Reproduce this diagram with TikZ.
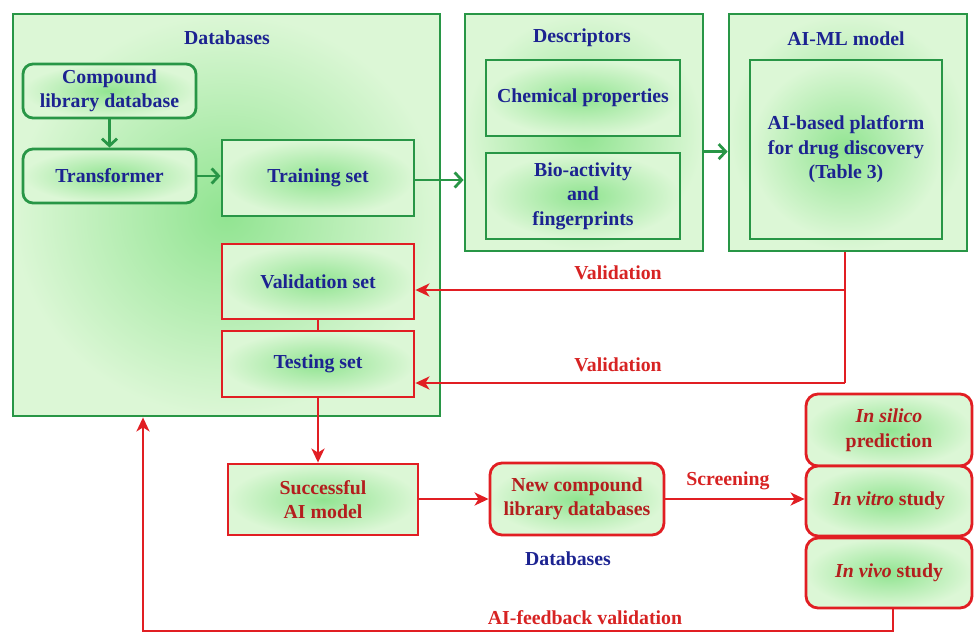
\documentclass[tikz,border=0pt]{standalone}
\usepackage{fontspec}
\setmainfont{Liberation Serif}
\usetikzlibrary{arrows.meta,calc}
\definecolor{gline}{RGB}{40,150,70}
\definecolor{rline}{RGB}{225,30,35}
\definecolor{btext}{RGB}{28,35,145}
\definecolor{rtext}{RGB}{180,30,30}
\definecolor{labred}{RGB}{215,35,35}
\definecolor{fin}{RGB}{145,228,145}
\definecolor{fout}{RGB}{220,247,214}
\tikzset{
  base/.style={draw, line width=2.8pt, inner color=fin, outer color=fout, align=center, inner sep=2pt},
  gbox/.style={base, draw=gline, text=btext},
  rbox/.style={base, draw=rline, text=btext},
  rrbox/.style={base, draw=rline, text=rtext},
  ttl/.style={text=btext, align=center},
  rlab/.style={text=labred},
  garrow/.style={draw=gline, line width=2.8pt, -{Straight Barb[length=7pt,width=15pt,line width=2.8pt]}},
  rarrow/.style={draw=rline, line width=2.8pt, -{Stealth[length=14pt,width=13pt,inset=4pt]}},
  rline/.style={draw=rline, line width=2.8pt},
}
\begin{document}
\begin{tikzpicture}[x=1pt,y=-1pt,font=\fontsize{19.8}{24.5}\selectfont\bfseries]
\useasboundingbox (0,0) rectangle (974,634);
% big boxes
\node[gbox, minimum width=427pt, minimum height=402pt] (db) at (226.5,215) {};
\node[ttl] (dbt) at (227,38) {Databases};
\node[gbox, minimum width=238pt, minimum height=237pt] (desc) at (584,132.5) {};
\node[ttl] (desct) at (582,38) {Descriptors};
\node[gbox, minimum width=238pt, minimum height=237pt] (aiml) at (848,132.5) {};
\node[ttl] (aimlt) at (846,39) {AI-ML model};
% inner boxes
\node[gbox, rounded corners=10pt, minimum width=173pt, minimum height=54pt] (comp) at (109.5,91) {Compound\\library database};
\node[gbox, rounded corners=10pt, minimum width=173pt, minimum height=54pt] (trans) at (109.5,176) {Transformer};
\node[gbox, minimum width=192pt, minimum height=76pt] (train) at (318,178) {Training set};
\node[rbox, minimum width=192pt, minimum height=75pt] (valid) at (318,281.5) {Validation set};
\node[rbox, minimum width=192pt, minimum height=66pt] (test) at (318,364) {Testing set};
\node[gbox, minimum width=194pt, minimum height=76pt] (chem) at (583,98) {Chemical properties};
\node[gbox, minimum width=194pt, minimum height=86pt] (bio) at (583,196) {Bio-activity\\and\\fingerprints};
\node[gbox, minimum width=192pt, minimum height=179pt] (plat) at (846,149.5) {AI-based platform\\for drug discovery\\(Table 3)};
% lower part
\node[rrbox, minimum width=190pt, minimum height=71pt] (succ) at (323,499.5) {Successful\\AI model};
\node[rrbox, rounded corners=12pt, minimum width=174pt, minimum height=72pt] (newc) at (577,499) {New compound\\library databases};
\node[ttl] (dbl) at (568,559) {Databases};
\node[rrbox, rounded corners=12pt, minimum width=166pt, minimum height=72pt] (sil) at (889,430) {\textit{In silico}\\prediction};
\node[rrbox, rounded corners=12pt, minimum width=166pt, minimum height=70pt] (vitro) at (889,501) {\textit{In vitro} study};
\node[rrbox, rounded corners=12pt, minimum width=166pt, minimum height=70pt] (vivo) at (889,573) {\textit{In vivo} study};
% green connectors
\draw[garrow] (comp.south) -- (trans.north);
\draw[garrow] (trans.east) -- (trans.east -| train.west);
\draw[garrow] (train.east |- 0,180) -- (desc.west |- 0,180);
\draw[garrow] (desc.east |- bio.north) -- (aiml.west |- bio.north);
% red validation connectors
\coordinate (v1) at (845,290);
\coordinate (v2) at (845,383);
\draw[rline] (aiml.south -| v1) -- (v2);
\draw[rarrow] (v1) -- (v1 -| valid.east);
\draw[rarrow] (v2) -- (v2 -| test.east);
\node[rlab] (vl1) at (618,273) {Validation};
\node[rlab] (vl2) at (618,365) {Validation};
\draw[rline] (valid.south) -- (test.north);
\draw[rarrow] (test.south) -- (test.south |- succ.north);
\draw[rarrow] (succ.east |- newc.east) -- (newc.west);
\draw[rarrow] (newc.east) -- (vitro.west |- newc.east);
\node[rlab] (scr) at (728,481) {Screening};
% feedback
\coordinate (fb) at (143,631);
\draw[rarrow] (vivo.south -| 893,0) |- (fb) -- (fb |- db.south);
\node[rlab] (fbl) at (585,618) {AI-feedback validation};
\end{tikzpicture}
\end{document}
